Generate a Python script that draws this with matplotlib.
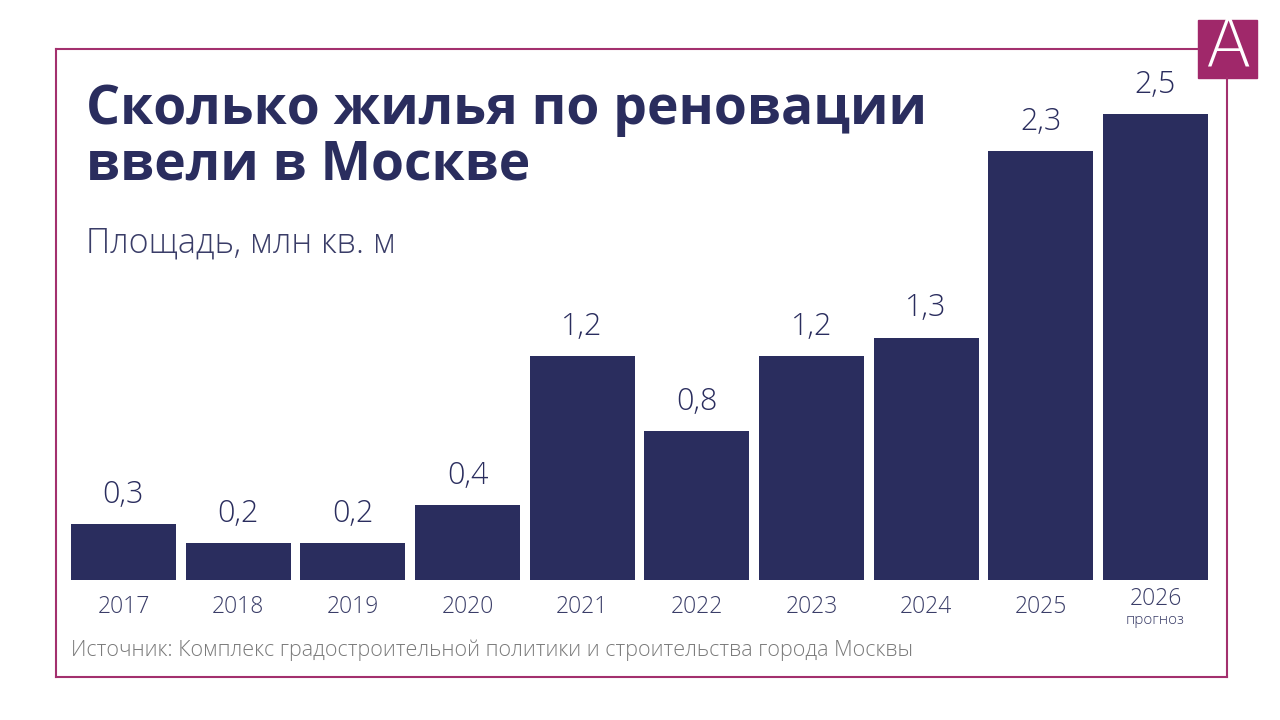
import matplotlib.pyplot as plt
from matplotlib.patches import Rectangle
from matplotlib.lines import Line2D

years = ["2017", "2018", "2019", "2020", "2021", "2022", "2023", "2024", "2025", "2026"]
values = [0.3, 0.2, 0.2, 0.4, 1.2, 0.8, 1.2, 1.3, 2.3, 2.5]
value_labels = ["0,3", "0,2", "0,2", "0,4", "1,2", "0,8", "1,2", "1,3", "2,3", "2,5"]

navy = "#2a2d5e"
magenta = "#a3306e"
W, H = 1280, 720

plt.rcParams['font.family'] = ['Open Sans', 'DejaVu Sans']

fig = plt.figure(figsize=(12.8, 7.2), dpi=100)
fig.patch.set_facecolor("white")

def px(x, y):
    return x / W, 1 - y / H

# frame
fig.add_artist(Line2D([56 / W, 1198 / W], [1 - 49 / H] * 2, color=magenta, lw=1.5))
fig.add_artist(Line2D([56 / W, 56 / W], [1 - 49 / H, 1 - 677 / H], color=magenta, lw=1.5))
fig.add_artist(Line2D([56 / W, 1227 / W], [1 - 677 / H] * 2, color=magenta, lw=1.5))
fig.add_artist(Line2D([1227 / W, 1227 / W], [1 - 78 / H, 1 - 677 / H], color=magenta, lw=1.5))

# logo
fig.add_artist(Rectangle(px(1198, 78), 59 / W, 58 / H, color="#a0286a", transform=fig.transFigure))
fig.text(*px(1227.5, 47), "A", color="white", fontsize=48, family="DejaVu Sans",
         fontweight="light", ha="center", va="center")

# titles
fig.text(*px(86, 110), "Сколько жилья по реновации", color=navy, fontsize=38.5,
         fontweight="bold", va="center")
fig.text(*px(86, 166), "ввели в Москве", color=navy, fontsize=38.5,
         fontweight="bold", va="center")
fig.text(*px(86, 243), "Площадь, млн кв. м", color="#3a3d68", fontsize=24.5,
         fontweight="light", va="center")

# bars
left, right = 71, 1208
bw = 0.915
ax = fig.add_axes([left / W, 1 - 580 / H, (right - left) / W, (580 - 114) / H])
x = list(range(len(years)))
ax.bar(x, values, width=bw, color=navy)
ax.set_xlim(-bw / 2, len(years) - 1 + bw / 2)
ax.set_ylim(0, 2.5)
ax.axis("off")

for i, (v, lab) in enumerate(zip(values, value_labels)):
    ax.annotate(lab, (i, v), xytext=(0, 9.5), textcoords="offset points",
                ha="center", va="bottom", fontsize=22, fontweight="light", color=navy)
    if years[i] == "2026":
        ax.annotate(years[i], (i, 0), xytext=(0, -5), textcoords="offset points",
                    ha="center", va="top", fontsize=16.5, fontweight="light", color="#3a3d68")
        ax.annotate("прогноз", (i, 0), xytext=(0, -24), textcoords="offset points",
                    ha="center", va="top", fontsize=11, fontweight="light", color="#3a3d68")
    else:
        ax.annotate(years[i], (i, 0), xytext=(0, -11), textcoords="offset points",
                    ha="center", va="top", fontsize=16.5, fontweight="light", color="#3a3d68")

fig.text(*px(71, 650), "Источник: Комплекс градостроительной политики и строительства города Москвы",
         color="#7a7a7a", fontsize=15.5, fontweight="light", va="center")

fig.savefig("out.png", dpi=100)
